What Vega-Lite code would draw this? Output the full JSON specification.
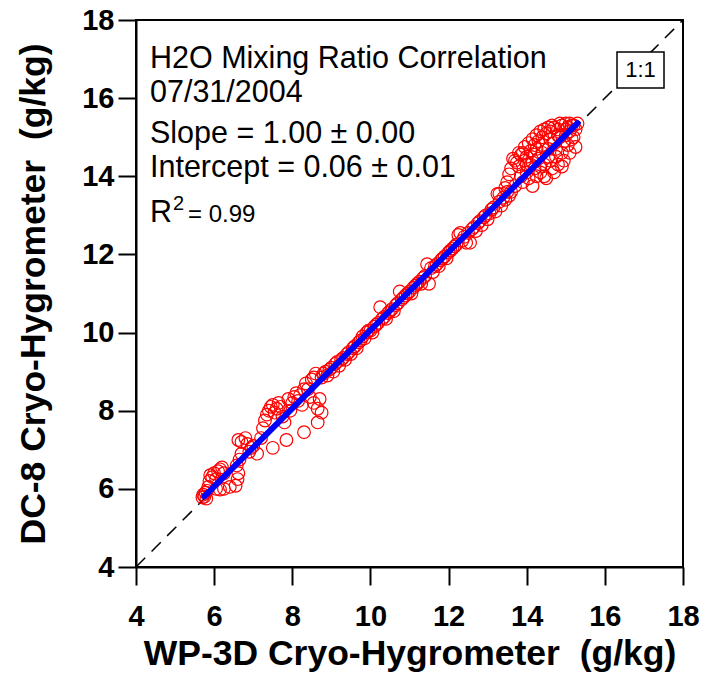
{
  "$schema": "https://vega.github.io/schema/vega-lite/v6.json",
  "autosize": {"type": "none"},
  "padding": {"left": 136, "top": 20, "right": 22, "bottom": 108},
  "width": 547,
  "height": 547,
  "background": "white",
  "config": {
    "font": "Liberation Sans",
    "view": {"stroke": "black", "strokeWidth": 2},
    "axis": {"grid": false}
  },
  "datasets": {
    "pts": [
      {"wp3d":5.70,"dc8":5.78},{"wp3d":5.72,"dc8":5.85},{"wp3d":5.75,"dc8":5.80},{"wp3d":5.78,"dc8":5.90},{"wp3d":5.80,"dc8":5.75},{"wp3d":5.82,"dc8":5.95},{"wp3d":5.85,"dc8":6.05},{"wp3d":5.88,"dc8":6.20},{"wp3d":5.90,"dc8":6.35},{"wp3d":5.95,"dc8":6.30},{"wp3d":6.00,"dc8":6.40},{"wp3d":6.05,"dc8":6.25},{"wp3d":6.10,"dc8":6.45},{"wp3d":6.15,"dc8":6.50},{"wp3d":6.20,"dc8":6.55},{"wp3d":6.25,"dc8":6.40},{"wp3d":6.05,"dc8":6.00},{"wp3d":6.15,"dc8":5.98},{"wp3d":6.25,"dc8":6.00},{"wp3d":6.40,"dc8":6.05},{"wp3d":6.55,"dc8":6.08},{"wp3d":6.60,"dc8":6.25},{"wp3d":6.62,"dc8":6.40},{"wp3d":6.58,"dc8":6.60},{"wp3d":6.65,"dc8":6.75},{"wp3d":6.70,"dc8":6.90},{"wp3d":6.62,"dc8":7.25},{"wp3d":6.70,"dc8":7.20},{"wp3d":6.80,"dc8":7.30},{"wp3d":6.85,"dc8":7.15},{"wp3d":6.90,"dc8":6.95},{"wp3d":6.95,"dc8":7.05},{"wp3d":7.00,"dc8":7.10},{"wp3d":7.10,"dc8":6.90},{"wp3d":7.20,"dc8":7.30},{"wp3d":7.25,"dc8":7.55},{"wp3d":7.30,"dc8":7.75},{"wp3d":7.35,"dc8":7.90},{"wp3d":7.40,"dc8":8.00},{"wp3d":7.45,"dc8":8.10},{"wp3d":7.50,"dc8":8.15},{"wp3d":7.55,"dc8":7.95},{"wp3d":7.60,"dc8":8.05},{"wp3d":7.65,"dc8":8.20},{"wp3d":7.70,"dc8":8.10},{"wp3d":7.75,"dc8":7.85},{"wp3d":7.50,"dc8":7.05},{"wp3d":7.85,"dc8":7.25},{"wp3d":7.80,"dc8":7.70},{"wp3d":7.90,"dc8":8.30},{"wp3d":7.95,"dc8":8.00},{"wp3d":8.00,"dc8":8.20},{"wp3d":8.05,"dc8":8.35},{"wp3d":8.10,"dc8":8.45},{"wp3d":8.15,"dc8":8.25},{"wp3d":8.20,"dc8":8.40},{"wp3d":8.25,"dc8":8.15},{"wp3d":8.30,"dc8":7.45},{"wp3d":8.30,"dc8":8.55},{"wp3d":8.35,"dc8":8.70},{"wp3d":8.40,"dc8":8.55},{"wp3d":8.45,"dc8":8.35},{"wp3d":8.50,"dc8":8.80},{"wp3d":8.55,"dc8":8.20},{"wp3d":8.55,"dc8":8.85},{"wp3d":8.60,"dc8":8.95},{"wp3d":8.65,"dc8":7.70},{"wp3d":8.65,"dc8":8.05},{"wp3d":8.70,"dc8":8.30},{"wp3d":8.75,"dc8":7.95},{"wp3d":8.75,"dc8":8.85},{"wp3d":8.80,"dc8":8.95},{"wp3d":8.85,"dc8":9.00},{"wp3d":8.90,"dc8":8.90},{"wp3d":8.95,"dc8":9.05},{"wp3d":9.00,"dc8":9.10},{"wp3d":9.05,"dc8":9.00},{"wp3d":9.10,"dc8":9.20},{"wp3d":9.15,"dc8":9.25},{"wp3d":9.20,"dc8":9.15},{"wp3d":9.25,"dc8":9.30},{"wp3d":9.30,"dc8":9.35},{"wp3d":9.35,"dc8":9.30},{"wp3d":9.40,"dc8":9.45},{"wp3d":9.45,"dc8":9.50},{"wp3d":9.50,"dc8":9.45},{"wp3d":9.55,"dc8":9.60},{"wp3d":9.60,"dc8":9.65},{"wp3d":9.65,"dc8":9.60},{"wp3d":9.70,"dc8":9.75},{"wp3d":9.75,"dc8":9.80},{"wp3d":9.80,"dc8":9.90},{"wp3d":9.85,"dc8":9.85},{"wp3d":9.90,"dc8":10.00},{"wp3d":9.95,"dc8":10.05},{"wp3d":10.00,"dc8":10.05},{"wp3d":10.05,"dc8":10.00},{"wp3d":10.10,"dc8":10.15},{"wp3d":10.15,"dc8":10.20},{"wp3d":10.20,"dc8":10.25},{"wp3d":10.25,"dc8":10.65},{"wp3d":10.30,"dc8":10.35},{"wp3d":10.35,"dc8":10.40},{"wp3d":10.40,"dc8":10.35},{"wp3d":10.45,"dc8":10.50},{"wp3d":10.50,"dc8":10.55},{"wp3d":10.55,"dc8":10.60},{"wp3d":10.60,"dc8":10.55},{"wp3d":10.65,"dc8":10.70},{"wp3d":10.70,"dc8":10.75},{"wp3d":10.75,"dc8":11.05},{"wp3d":10.80,"dc8":10.85},{"wp3d":10.85,"dc8":10.90},{"wp3d":10.90,"dc8":10.95},{"wp3d":10.95,"dc8":11.00},{"wp3d":11.00,"dc8":11.05},{"wp3d":11.05,"dc8":11.00},{"wp3d":11.10,"dc8":11.15},{"wp3d":11.15,"dc8":11.20},{"wp3d":11.20,"dc8":11.25},{"wp3d":11.25,"dc8":11.30},{"wp3d":11.30,"dc8":11.25},{"wp3d":11.35,"dc8":11.40},{"wp3d":11.40,"dc8":11.45},{"wp3d":11.45,"dc8":11.75},{"wp3d":11.50,"dc8":11.25},{"wp3d":11.55,"dc8":11.65},{"wp3d":11.60,"dc8":11.55},{"wp3d":11.65,"dc8":11.70},{"wp3d":11.70,"dc8":11.75},{"wp3d":11.75,"dc8":11.70},{"wp3d":11.80,"dc8":11.85},{"wp3d":11.85,"dc8":11.90},{"wp3d":11.90,"dc8":11.95},{"wp3d":11.95,"dc8":11.90},{"wp3d":12.00,"dc8":12.05},{"wp3d":12.05,"dc8":12.10},{"wp3d":12.10,"dc8":12.15},{"wp3d":12.15,"dc8":12.20},{"wp3d":12.20,"dc8":12.25},{"wp3d":12.25,"dc8":12.50},{"wp3d":12.30,"dc8":12.55},{"wp3d":12.35,"dc8":12.35},{"wp3d":12.40,"dc8":12.45},{"wp3d":12.45,"dc8":12.30},{"wp3d":12.50,"dc8":12.55},{"wp3d":12.55,"dc8":12.30},{"wp3d":12.60,"dc8":12.65},{"wp3d":12.65,"dc8":12.70},{"wp3d":12.70,"dc8":12.60},{"wp3d":12.75,"dc8":12.80},{"wp3d":12.80,"dc8":12.85},{"wp3d":12.85,"dc8":12.75},{"wp3d":12.90,"dc8":12.95},{"wp3d":12.95,"dc8":13.00},{"wp3d":13.00,"dc8":12.90},{"wp3d":13.05,"dc8":13.05},{"wp3d":13.10,"dc8":13.15},{"wp3d":13.15,"dc8":13.20},{"wp3d":13.20,"dc8":13.10},{"wp3d":13.25,"dc8":13.55},{"wp3d":13.30,"dc8":13.35},{"wp3d":13.35,"dc8":13.25},{"wp3d":13.40,"dc8":13.45},{"wp3d":13.45,"dc8":13.70},{"wp3d":13.50,"dc8":13.85},{"wp3d":13.55,"dc8":13.50},{"wp3d":13.60,"dc8":14.20},{"wp3d":13.60,"dc8":13.60},{"wp3d":13.65,"dc8":14.45},{"wp3d":13.70,"dc8":13.75},{"wp3d":13.75,"dc8":14.35},{"wp3d":13.80,"dc8":14.25},{"wp3d":13.85,"dc8":14.55},{"wp3d":13.90,"dc8":14.60},{"wp3d":13.90,"dc8":13.85},{"wp3d":13.95,"dc8":14.40},{"wp3d":14.00,"dc8":14.10},{"wp3d":14.00,"dc8":14.50},{"wp3d":14.05,"dc8":13.95},{"wp3d":14.10,"dc8":14.30},{"wp3d":14.10,"dc8":14.65},{"wp3d":14.15,"dc8":13.75},{"wp3d":14.20,"dc8":14.80},{"wp3d":14.20,"dc8":14.20},{"wp3d":14.25,"dc8":14.00},{"wp3d":14.30,"dc8":14.90},{"wp3d":14.30,"dc8":14.45},{"wp3d":14.35,"dc8":14.10},{"wp3d":14.40,"dc8":15.00},{"wp3d":14.40,"dc8":14.60},{"wp3d":14.45,"dc8":14.30},{"wp3d":14.50,"dc8":15.10},{"wp3d":14.50,"dc8":13.95},{"wp3d":14.55,"dc8":14.70},{"wp3d":14.60,"dc8":15.15},{"wp3d":14.60,"dc8":14.40},{"wp3d":14.65,"dc8":14.20},{"wp3d":14.70,"dc8":15.25},{"wp3d":14.70,"dc8":14.85},{"wp3d":14.75,"dc8":14.50},{"wp3d":14.80,"dc8":15.20},{"wp3d":14.80,"dc8":14.30},{"wp3d":14.85,"dc8":15.00},{"wp3d":14.90,"dc8":15.30},{"wp3d":14.90,"dc8":14.60},{"wp3d":14.95,"dc8":14.40},{"wp3d":15.00,"dc8":15.35},{"wp3d":15.00,"dc8":15.05},{"wp3d":15.05,"dc8":14.80},{"wp3d":15.10,"dc8":15.35},{"wp3d":15.10,"dc8":15.15},{"wp3d":15.15,"dc8":14.95},{"wp3d":15.20,"dc8":15.30},{"wp3d":15.25,"dc8":14.75},{"wp3d":15.25,"dc8":15.20},{"wp3d":15.30,"dc8":15.35},
      {"wp3d":13.55,"dc8":14.05},{"wp3d":13.70,"dc8":14.40},{"wp3d":13.80,"dc8":14.60},{"wp3d":13.95,"dc8":14.75},{"wp3d":14.05,"dc8":14.85},{"wp3d":14.15,"dc8":14.95},{"wp3d":14.25,"dc8":15.05},{"wp3d":14.35,"dc8":15.15},{"wp3d":14.45,"dc8":15.20},{"wp3d":14.55,"dc8":15.25},{"wp3d":14.65,"dc8":15.30},{"wp3d":14.85,"dc8":15.35},{"wp3d":14.00,"dc8":14.30},{"wp3d":14.20,"dc8":14.55},{"wp3d":14.40,"dc8":14.80},{"wp3d":14.60,"dc8":14.95},{"wp3d":14.80,"dc8":15.05},{"wp3d":15.00,"dc8":15.20},{"wp3d":14.45,"dc8":14.00},{"wp3d":14.70,"dc8":14.10},{"wp3d":14.90,"dc8":14.25},{"wp3d":15.10,"dc8":14.60},{"wp3d":15.20,"dc8":15.00},{"wp3d":13.85,"dc8":14.00},{"wp3d":14.15,"dc8":14.35},{"wp3d":14.35,"dc8":14.25},{"wp3d":14.55,"dc8":14.50},{"wp3d":14.75,"dc8":14.70},{"wp3d":14.95,"dc8":14.90},{"wp3d":15.05,"dc8":15.25},{"wp3d":15.15,"dc8":15.30},{"wp3d":14.25,"dc8":14.70},{"wp3d":13.50,"dc8":13.60},{"wp3d":13.45,"dc8":13.40},{"wp3d":13.30,"dc8":13.55}
    ],
    "oneToOne": [{"wp3d": 4, "dc8": 4}, {"wp3d": 18, "dc8": 18}],
    "fit": [{"wp3d": 5.75, "dc8": 5.81}, {"wp3d": 15.3, "dc8": 15.36}],
    "box": [{"x1": 16.311, "x2": 17.514, "y1": 16.26, "y2": 17.181}],
    "mainText": [
      {"x": 4.358, "y": 16.772, "label": "H2O Mixing Ratio Correlation"},
      {"x": 4.358, "y": 15.901, "label": "07/31/2004"},
      {"x": 4.358, "y": 14.852, "label": "Slope = 1.00 ± 0.00"},
      {"x": 4.358, "y": 13.982, "label": "Intercept = 0.06 ± 0.01"},
      {"x": 4.358, "y": 12.830, "label": "R"}
    ],
    "supText": [{"x": 4.947, "y": 13.137, "label": "2"}],
    "smallText": [{"x": 5.331, "y": 12.830, "label": "= 0.99"}],
    "boxText": [{"x": 16.913, "y": 16.72, "label": "1:1"}]
  },
  "layer": [
    {
      "data": {"name": "oneToOne"},
      "mark": {"type": "line", "color": "black", "strokeWidth": 1.5, "strokeDash": [13, 9]},
      "encoding": {
        "x": {"field": "wp3d", "type": "quantitative", "scale": {"domain": [4, 18], "nice": false, "zero": false},
          "axis": {"values": [4, 6, 8, 10, 12, 14, 16, 18], "title": "WP-3D Cryo-Hygrometer \u00a0(g/kg)",
            "tickSize": 18, "tickWidth": 2, "tickColor": "black", "domainColor": "black", "domainWidth": 2,
            "labelFontSize": 29, "labelFontWeight": "bold", "labelColor": "black", "labelPadding": 17,
            "labelFlush": false, "labelOverlap": false,
            "titleFontSize": 35.5, "titleFontWeight": "bold", "titleColor": "black",
            "titleY": 97, "titleBaseline": "alphabetic"}},
        "y": {"field": "dc8", "type": "quantitative", "scale": {"domain": [4, 18], "nice": false, "zero": false},
          "axis": {"values": [4, 6, 8, 10, 12, 14, 16, 18], "title": "DC-8 Cryo-Hygrometer \u00a0(g/kg)",
            "tickSize": 18, "tickWidth": 2, "tickColor": "black", "domainColor": "black", "domainWidth": 2,
            "labelFontSize": 29, "labelFontWeight": "bold", "labelColor": "black", "labelPadding": 4,
            "labelFlush": false, "labelOverlap": false,
            "titleFontSize": 35.5, "titleFontWeight": "bold", "titleColor": "black",
            "titleX": -92, "titleY": 273.5, "titleBaseline": "alphabetic", "titleAngle": -90, "titleAlign": "center"}}
      }
    },
    {
      "data": {"name": "pts"},
      "mark": {"type": "point", "shape": "circle", "filled": false, "stroke": "#ff0000", "strokeWidth": 1.2, "size": 160, "opacity": 1},
      "encoding": {
        "x": {"field": "wp3d", "type": "quantitative"},
        "y": {"field": "dc8", "type": "quantitative"}
      }
    },
    {
      "data": {"name": "fit"},
      "mark": {"type": "line", "color": "#0000ff", "strokeWidth": 6, "strokeCap": "round"},
      "encoding": {
        "x": {"field": "wp3d", "type": "quantitative"},
        "y": {"field": "dc8", "type": "quantitative"}
      }
    },
    {
      "data": {"name": "box"},
      "mark": {"type": "rect", "fill": "white", "stroke": "black", "strokeWidth": 1.5},
      "encoding": {
        "x": {"field": "x1", "type": "quantitative"},
        "x2": {"field": "x2"},
        "y": {"field": "y1", "type": "quantitative"},
        "y2": {"field": "y2"}
      }
    },
    {
      "data": {"name": "boxText"},
      "mark": {"type": "text", "fontSize": 22, "align": "center", "baseline": "middle", "color": "black"},
      "encoding": {
        "x": {"field": "x", "type": "quantitative"},
        "y": {"field": "y", "type": "quantitative"},
        "text": {"field": "label"}
      }
    },
    {
      "data": {"name": "mainText"},
      "mark": {"type": "text", "fontSize": 30.5, "align": "left", "baseline": "alphabetic", "color": "black"},
      "encoding": {
        "x": {"field": "x", "type": "quantitative"},
        "y": {"field": "y", "type": "quantitative"},
        "text": {"field": "label"}
      }
    },
    {
      "data": {"name": "supText"},
      "mark": {"type": "text", "fontSize": 20, "align": "left", "baseline": "alphabetic", "color": "black"},
      "encoding": {
        "x": {"field": "x", "type": "quantitative"},
        "y": {"field": "y", "type": "quantitative"},
        "text": {"field": "label"}
      }
    },
    {
      "data": {"name": "smallText"},
      "mark": {"type": "text", "fontSize": 24, "align": "left", "baseline": "alphabetic", "color": "black"},
      "encoding": {
        "x": {"field": "x", "type": "quantitative"},
        "y": {"field": "y", "type": "quantitative"},
        "text": {"field": "label"}
      }
    }
  ]
}
